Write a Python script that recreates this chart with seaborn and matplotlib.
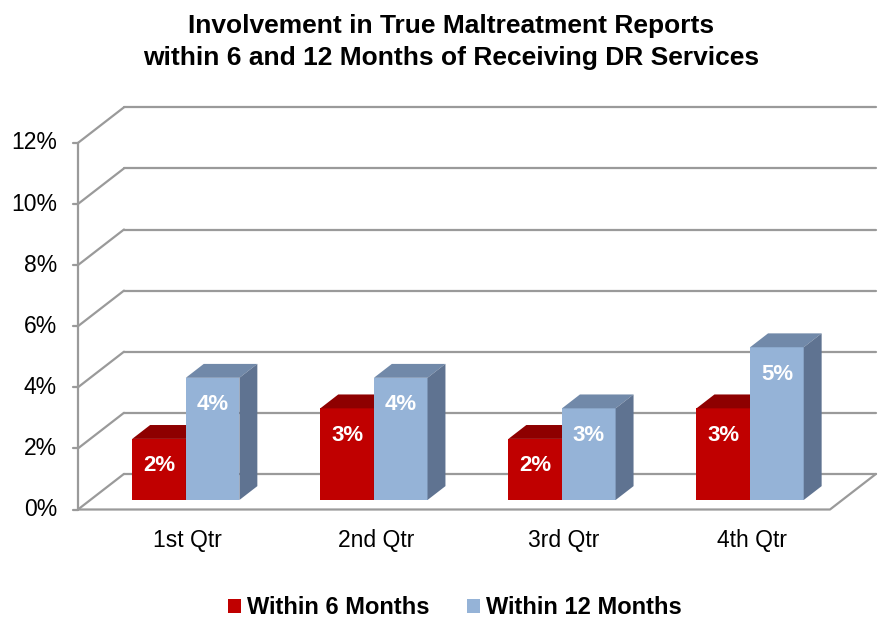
import numpy as np
import pandas as pd
import matplotlib.pyplot as plt
from matplotlib.patches import Polygon
import seaborn as sns

quarters = ["1st Qtr", "2nd Qtr", "3rd Qtr", "4th Qtr"]
series_names = ["Within 6 Months", "Within 12 Months"]
within_6 = [2, 3, 2, 3]
within_12 = [4, 4, 3, 5]
y_ticks = [0, 2, 4, 6, 8, 10, 12]

front_cols = ["#C00000", "#95B3D7"]
top_cols = ["#8E0000", "#7189A9"]
side_cols = ["#7A0000", "#5F7391"]
grid_col = "#9A9A9A"

df = pd.DataFrame({
    "Quarter": quarters * 2,
    "Series": [series_names[0]] * 4 + [series_names[1]] * 4,
    "Value": within_6 + within_12,
})

sns.set_theme(style="white")
plt.rcParams["font.family"] = ["Liberation Sans", "DejaVu Sans"]
plt.rcParams["text.color"] = "black"

W, H = 879, 619
fig = plt.figure(figsize=(W / 100, H / 100), dpi=100)
ax = fig.add_axes([0, 0, 1, 1])

sns.barplot(data=df, x="Quarter", y="Value", hue="Series", palette=front_cols,
            width=0.57, saturation=1, linewidth=0, legend=False, ax=ax)

# pixel layout of the bar plane: category 0 centre at x=185.8px, 0% at y=500px
ppx, ppy = 188.1, 30.55
ax.set_xlim(-185.8 / ppx, (W - 185.8) / ppx)
ax.set_ylim((500 - H) / ppy, 500 / ppy)
ax.axis("off")

# fake 3d: depth vector from front plane to back wall
Dx, Dy = 46 / ppx, 35.6 / ppy
d_front, d_back, d_bar = -0.267, 0.733, 0.39
xl, xr = -0.508, 3.49


def shift(x, y, d):
    return x + d * Dx, y + d * Dy


lw = 1.6
for t in y_ticks:
    p0 = shift(xl, t, d_back)
    p1 = shift(xr, t, d_back)
    ax.plot([p0[0], p1[0]], [p0[1], p1[1]], color=grid_col, lw=lw, zorder=1)
    q0 = shift(xl, t, d_front)
    ax.plot([q0[0], p0[0]], [q0[1], p0[1]], color=grid_col, lw=lw, zorder=1)
    ax.plot([q0[0] - 5 / ppx, q0[0]], [q0[1], q0[1]], color=grid_col, lw=lw, zorder=1)
    ax.annotate(f"{t}%", xy=q0, xytext=(-21, 0), textcoords="offset pixels",
                ha="right", va="center", fontsize=16.5, color="black")

a0 = shift(xl, 0, d_front)
a1 = shift(xl, max(y_ticks), d_front)
ax.plot([a0[0], a1[0]], [a0[1], a1[1]], color=grid_col, lw=lw, zorder=1)
f1 = shift(xr, 0, d_front)
b1 = shift(xr, 0, d_back)
ax.plot([a0[0], f1[0], b1[0]], [a0[1], f1[1], b1[1]], color=grid_col, lw=lw, zorder=1)

bdx, bdy = d_bar * Dx, d_bar * Dy
for k, cont in enumerate(ax.containers):
    for bar in cont.patches:
        x, w, h = bar.get_x(), bar.get_width(), bar.get_height()
        bar.set_zorder(2 + k)
        top = Polygon([(x, h), (x + w, h), (x + w + bdx, h + bdy), (x + bdx, h + bdy)],
                      closed=True, facecolor=top_cols[k], edgecolor="none", zorder=2.5 + k)
        side = Polygon([(x + w, 0), (x + w, h), (x + w + bdx, h + bdy), (x + w + bdx, bdy)],
                       closed=True, facecolor=side_cols[k], edgecolor="none", zorder=2.5 + k)
        ax.add_patch(top)
        ax.add_patch(side)
        ax.annotate(f"{h:.0f}%", xy=(x + w / 2, h), xytext=(0, -27), textcoords="offset pixels",
                    ha="center", va="center", fontsize=16, fontweight="bold",
                    color="white", zorder=5)

for i, q in enumerate(quarters):
    ax.annotate(q, xy=(i, 0), xytext=(2, -40), textcoords="offset pixels",
                ha="center", va="center", fontsize=16.5, color="black")

fig.text(451 / W, 1 - 42 / H,
         "Involvement in True Maltreatment Reports\nwithin 6 and 12 Months of Receiving DR Services",
         ha="center", va="center", fontsize=19, fontweight="bold", linespacing=1.45,
         color="black")

ax.legend(ax.containers, series_names, loc="center",
          bbox_to_anchor=(455 / W, 1 - 608 / H), bbox_transform=fig.transFigure,
          ncol=2, frameon=False, prop={"weight": "bold", "size": 17},
          handlelength=0.55, handleheight=0.55, handletextpad=0.25, columnspacing=1.6)

fig.savefig("out.png", dpi=100)
